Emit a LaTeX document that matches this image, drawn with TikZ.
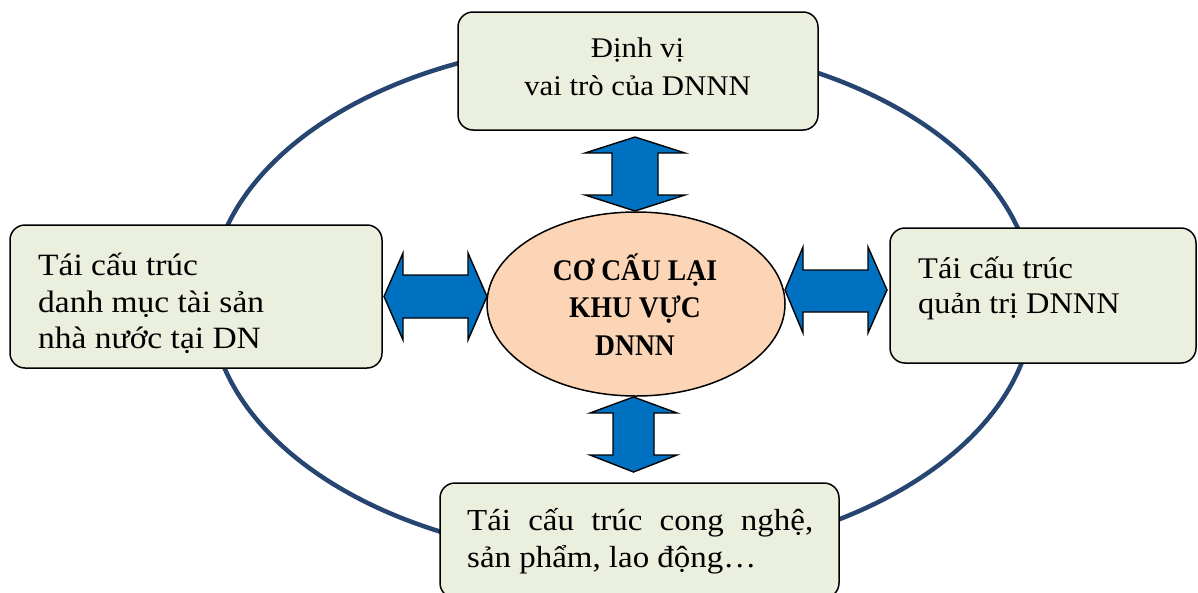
\documentclass[tikz,border=0pt]{standalone}
\usepackage{fontspec}
\setmainfont[FakeStretch=1.08]{Liberation Serif}
\newfontfamily\ctrfont[FakeStretch=0.92]{Liberation Serif}
\usetikzlibrary{shapes.geometric}
\definecolor{boxfill}{HTML}{EBEFDE}
\definecolor{peach}{HTML}{FBD5B5}
\definecolor{arrowblue}{HTML}{0070C0}
\definecolor{ringnavy}{HTML}{264570}
\tikzset{
  box/.style={draw=black, line width=1.5pt, fill=boxfill, rounded corners=15pt, rectangle, inner sep=0pt},
  fatarrow/.style={draw=black, line width=1.4pt, fill=arrowblue, line join=miter},
  txt/.style={inner sep=0pt, text=black},
  ring/.style={draw=ringnavy, line width=4.5pt}
}
\begin{document}
\begin{tikzpicture}[x=1pt, y=-1pt]
\useasboundingbox (0,0) rectangle (1198,592);
% outer ring
\draw[ring] (622,300) ellipse [x radius=412pt, y radius=258pt];
% boxes
\node[box, minimum width=360pt, minimum height=118pt] (top) at (638,71) {};
\node[box, minimum width=372pt, minimum height=143pt] (left) at (196,296.5) {};
\node[box, minimum width=306pt, minimum height=135pt] (right) at (1043,295.5) {};
\node[box, minimum width=399pt, minimum height=115pt] (bottom) at (639.5,540.5) {};
% centre
\node[ellipse, draw=black, line width=1.5pt, fill=peach, minimum width=298pt, minimum height=184pt, inner sep=0pt] (ctr) at (636,304) {};
% arrows
\draw[fatarrow] (635,137) -- (685,153) -- (658,153) -- (658,195) -- (685,195) -- (635,211)
  -- (585,195) -- (612,195) -- (612,153) -- (585,153) -- cycle;
\draw[fatarrow] (633.5,397) -- (677,413) -- (654,413) -- (654,455) -- (677,455) -- (633.5,472)
  -- (590,455) -- (613,455) -- (613,413) -- (590,413) -- cycle;
\draw[fatarrow] (384,296.5) -- (403,253) -- (403,275) -- (468,275) -- (468,253) -- (487,296.5)
  -- (468,340) -- (468,318) -- (403,318) -- (403,340) -- cycle;
\draw[fatarrow] (785,290) -- (803,247) -- (803,270) -- (868,270) -- (868,247) -- (887,290)
  -- (868,333) -- (868,312) -- (803,312) -- (803,333) -- cycle;
% texts
\begin{scope}[every node/.append style={txt}]
\node[anchor=base, font=\fontsize{28.5}{38}\selectfont] (t1) at (637.5,57) {Định vị};
\node[anchor=base, font=\fontsize{28.5}{38}\selectfont] (t2) at (637.5,95) {vai trò của DNNN};
\node[anchor=base west, font=\fontsize{31}{37}\selectfont] (l1) at (38,275) {Tái cấu trúc};
\node[anchor=base west, font=\fontsize{31}{37}\selectfont] (l2) at (38,312) {danh mục tài sản};
\node[anchor=base west, font=\fontsize{31}{37}\selectfont] (l3) at (38,348) {nhà nước tại DN};
\node[anchor=base west, font=\fontsize{30}{36}\selectfont] (r1) at (918,278) {Tái cấu trúc};
\node[anchor=base west, font=\fontsize{30}{36}\selectfont] (r2) at (918,313) {quản trị DNNN};
\node[anchor=base west, font=\fontsize{30.5}{37}\selectfont] (b1) at (467,530) {\makebox[346pt][s]{Tái cấu trúc cong nghệ,}};
\node[anchor=base west, font=\fontsize{30.5}{37}\selectfont] (b2) at (467,567) {sản phẩm, lao động…};
\node[anchor=base, font=\ctrfont\bfseries\fontsize{30}{37}\selectfont] (c1) at (635,280) {CƠ CẤU LẠI};
\node[anchor=base, font=\ctrfont\bfseries\fontsize{30}{37}\selectfont] (c2) at (635,317) {KHU VỰC};
\node[anchor=base, font=\ctrfont\bfseries\fontsize{30}{37}\selectfont] (c3) at (635,355) {DNNN};
\end{scope}
\end{tikzpicture}
\end{document}
